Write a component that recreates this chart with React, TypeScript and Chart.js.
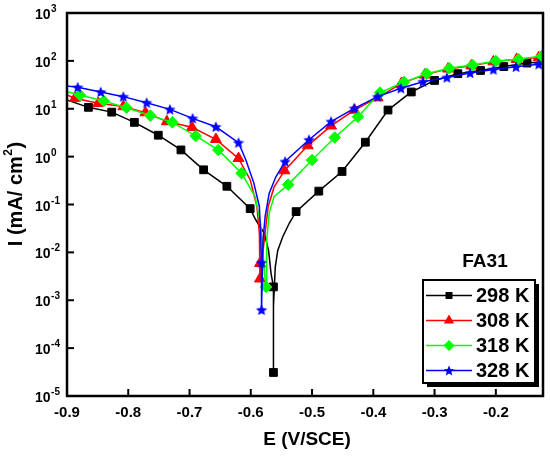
import React, { useEffect, useRef } from "react";
import { Chart, registerables } from "chart.js";

Chart.register(...registerables);

// ---- data (E in V/SCE, I in mA/cm2); M = 1 where a marker is shown ----
const E298 = [-0.9, -0.865, -0.827, -0.79, -0.751, -0.714, -0.677, -0.639, -0.601, -0.592, -0.578, -0.571, -0.567, -0.563, -0.563, -0.563, -0.56, -0.556, -0.548, -0.537, -0.526, -0.489, -0.451, -0.413, -0.376, -0.338, -0.3, -0.262, -0.225, -0.187, -0.149, -0.123];
const I298 = [15.3, 10.7, 8.5, 5.2, 2.8, 1.38, 0.53, 0.24, 0.082, 0.048, 0.025, 0.011, 0.0037, 0.0019, 0.000031, 0.00074, 0.005, 0.011, 0.021, 0.041, 0.071, 0.19, 0.49, 2.0, 9.4, 22.4, 39, 54, 63, 76, 90, 96];
const M298 = [0, 1, 1, 1, 1, 1, 1, 1, 1, 0, 0, 0, 0, 1, 1, 0, 0, 0, 0, 0, 1, 1, 1, 1, 1, 1, 1, 1, 1, 1, 1, 0];

const E308 = [-0.9, -0.887, -0.849, -0.808, -0.772, -0.737, -0.696, -0.657, -0.62, -0.601, -0.59, -0.586, -0.585, -0.585, -0.578, -0.5716, -0.562, -0.545, -0.507, -0.469, -0.431, -0.393, -0.354, -0.316, -0.278, -0.24, -0.204, -0.166, -0.13, -0.123];
const I308 = [19.4, 16.6, 13.0, 11.1, 8.3, 5.4, 4.1, 2.3, 0.92, 0.33, 0.091, 0.025, 0.0059, 0.0028, 0.018, 0.091, 0.23, 0.51, 1.7, 4.4, 9.4, 17, 34, 51, 68, 79, 96, 108, 118, 120];
const M308 = [0, 1, 1, 1, 1, 1, 1, 1, 1, 0, 0, 0, 1, 1, 0, 0, 0, 1, 1, 1, 1, 1, 1, 1, 1, 1, 1, 1, 1, 0];

const E318 = [-0.9, -0.879, -0.84, -0.803, -0.764, -0.728, -0.69, -0.653, -0.615, -0.593, -0.584, -0.58, -0.577, -0.575, -0.574, -0.57, -0.562, -0.539, -0.5, -0.463, -0.425, -0.389, -0.35, -0.313, -0.276, -0.238, -0.2, -0.163, -0.125, -0.123];
const I318 = [22.7, 19.4, 14.5, 10.5, 7.2, 5.2, 2.7, 1.38, 0.45, 0.146, 0.04, 0.01, 0.003, 0.0019, 0.018, 0.066, 0.146, 0.26, 0.85, 2.5, 6.8, 21.7, 36, 54, 70, 82, 99, 108, 126, 127];
const M318 = [0, 1, 1, 1, 1, 1, 1, 1, 1, 0, 0, 0, 0, 1, 0, 0, 0, 1, 1, 1, 1, 1, 1, 1, 1, 1, 1, 1, 1, 0];

const E328 = [-0.9, -0.8825, -0.845, -0.808, -0.77, -0.732, -0.695, -0.657, -0.62, -0.608, -0.595, -0.586, -0.584, -0.5825, -0.5825, -0.581, -0.58, -0.5766, -0.57, -0.559, -0.544, -0.505, -0.469, -0.431, -0.393, -0.355, -0.319, -0.28, -0.242, -0.204, -0.167, -0.13, -0.123];
const I328 = [30, 28.1, 22.4, 17.9, 13.4, 9.7, 6.3, 4.2, 1.96, 0.85, 0.28, 0.091, 0.025, 0.0061, 0.00063, 0.004, 0.018, 0.056, 0.17, 0.38, 0.79, 2.25, 5.4, 10.2, 17.9, 26.8, 36.8, 45, 56, 66, 75, 85, 88];
const M328 = [0, 1, 1, 1, 1, 1, 1, 1, 1, 0, 0, 0, 0, 1, 1, 0, 0, 0, 0, 0, 1, 1, 1, 1, 1, 1, 1, 1, 1, 1, 1, 1, 0];

const SERIES_LABELS = ["298 K", "308 K", "318 K", "328 K"];
const COLORS = ["#000000", "#ff0000", "#00ff00", "#0000ff"];
const X_TICKS = [-0.9, -0.8, -0.7, -0.6, -0.5, -0.4, -0.3, -0.2];
const Y_EXPONENTS = [-5, -4, -3, -2, -1, 0, 1, 2, 3];
const X_MIN = -0.9;
const X_MAX = -0.123;
const Y_MIN = 1e-5;
const Y_MAX = 1e3;
const X_TITLE = "E (V/SCE)";
const Y_TITLE_MAIN = "I (mA/ cm";
const Y_TITLE_SUP = "2";
const Y_TITLE_END = ")";
const PANEL_LABEL = "FA31";

const FONT = '"Liberation Sans", Arial, Helvetica, sans-serif';

function starPath(g: CanvasRenderingContext2D, cx: number, cy: number, R: number) {
  g.beginPath();
  for (let i = 0; i < 10; i++) {
    const r = i % 2 === 0 ? R : R * 0.45;
    const a = -Math.PI / 2 + (i * Math.PI) / 5;
    const px = cx + r * Math.cos(a);
    const py = cy + r * Math.sin(a);
    if (i === 0) g.moveTo(px, py);
    else g.lineTo(px, py);
  }
  g.closePath();
}

function makeStar(color: string, R: number) {
  const c = document.createElement("canvas");
  const s = Math.ceil(R * 2 + 2);
  c.width = s;
  c.height = s;
  const g = c.getContext("2d")!;
  starPath(g, s / 2, s / 2 + 0.5, R);
  g.fillStyle = color;
  g.fill();
  return c;
}

function drawMarker(ctx: CanvasRenderingContext2D, kind: number, x: number, y: number, color: string) {
  ctx.fillStyle = color;
  if (kind === 0) {
    ctx.fillRect(x - 3.5, y - 3.5, 7, 7);
  } else if (kind === 1) {
    const r = 6;
    ctx.beginPath();
    ctx.moveTo(x, y - r);
    ctx.lineTo(x + r * 0.866, y + r * 0.5);
    ctx.lineTo(x - r * 0.866, y + r * 0.5);
    ctx.closePath();
    ctx.fill();
  } else if (kind === 2) {
    const r = 5.5;
    ctx.beginPath();
    ctx.moveTo(x, y - r);
    ctx.lineTo(x + r, y);
    ctx.lineTo(x, y + r);
    ctx.lineTo(x - r, y);
    ctx.closePath();
    ctx.fill();
  } else {
    starPath(ctx, x, y + 0.5, 5.5);
    ctx.fill();
  }
}

const decorPlugin = {
  id: "decor",
  afterDatasetsDraw(chart: any) {
    const { ctx, chartArea: a, scales } = chart;
    const xs = scales.x;
    const ys = scales.y;
    ctx.save();
    ctx.strokeStyle = "#000";
    ctx.fillStyle = "#000";

    // frame
    ctx.lineWidth = 2.5;
    ctx.strokeRect(a.left, a.top, a.right - a.left, a.bottom - a.top);

    // x ticks (inward) and labels
    ctx.lineWidth = 2;
    ctx.font = `bold 15px ${FONT}`;
    ctx.textAlign = "center";
    ctx.textBaseline = "middle";
    X_TICKS.forEach((v) => {
      const px = xs.getPixelForValue(v);
      ctx.beginPath();
      ctx.moveTo(px, a.bottom);
      ctx.lineTo(px, a.bottom - 7);
      ctx.stroke();
      ctx.fillText(v.toFixed(1), px, a.bottom + 17);
    });

    // y ticks (inward) and labels 10^n
    Y_EXPONENTS.forEach((e) => {
      const py = ys.getPixelForValue(Math.pow(10, e));
      ctx.beginPath();
      ctx.moveTo(a.left, py);
      ctx.lineTo(a.left + 7, py);
      ctx.stroke();
      ctx.textAlign = "left";
      ctx.textBaseline = "alphabetic";
      ctx.font = `bold 14px ${FONT}`;
      const bx = 35;
      ctx.fillText("10", bx, py + 6);
      const bw = ctx.measureText("10").width;
      ctx.font = `bold 10px ${FONT}`;
      ctx.fillText(String(e), bx + bw + 0.5, py - 1);
    });

    // x title
    ctx.font = `bold 19px ${FONT}`;
    ctx.textAlign = "center";
    ctx.textBaseline = "middle";
    ctx.fillText(X_TITLE, (a.left + a.right) / 2 + 2, 440);

    // y title (rotated)
    ctx.save();
    ctx.translate(16, 194);
    ctx.rotate(-Math.PI / 2);
    ctx.textAlign = "left";
    ctx.textBaseline = "middle";
    ctx.font = `bold 20px ${FONT}`;
    const w1 = ctx.measureText(Y_TITLE_MAIN).width;
    const w3 = ctx.measureText(Y_TITLE_END).width;
    ctx.font = `bold 12px ${FONT}`;
    const w2 = ctx.measureText(Y_TITLE_SUP).width;
    const total = w1 + w2 + w3 + 1;
    let cx = -total / 2;
    ctx.font = `bold 20px ${FONT}`;
    ctx.fillText(Y_TITLE_MAIN, cx, 0);
    cx += w1;
    ctx.font = `bold 12px ${FONT}`;
    ctx.fillText(Y_TITLE_SUP, cx + 0.5, -7);
    cx += w2 + 1;
    ctx.font = `bold 20px ${FONT}`;
    ctx.fillText(Y_TITLE_END, cx, 0);
    ctx.restore();

    // panel label
    ctx.font = `bold 19px ${FONT}`;
    ctx.textAlign = "center";
    ctx.textBaseline = "middle";
    ctx.fillText(PANEL_LABEL, 485, 262);

    // legend with shadow
    const lx = 423, ly = 280, lw = 112, lh = 103;
    ctx.fillStyle = "#000";
    ctx.fillRect(lx + 4, ly + 4, lw, lh);
    ctx.fillStyle = "#fff";
    ctx.fillRect(lx, ly, lw, lh);
    ctx.lineWidth = 2;
    ctx.strokeStyle = "#000";
    ctx.strokeRect(lx, ly, lw, lh);
    SERIES_LABELS.forEach((lab, i) => {
      const ry = 295.5 + i * 25;
      ctx.strokeStyle = COLORS[i];
      ctx.lineWidth = 1.5;
      ctx.beginPath();
      ctx.moveTo(426, ry);
      ctx.lineTo(472, ry);
      ctx.stroke();
      drawMarker(ctx, i, 449, ry, COLORS[i]);
      ctx.fillStyle = "#000";
      ctx.font = `bold 20px ${FONT}`;
      ctx.textAlign = "left";
      ctx.textBaseline = "middle";
      ctx.fillText(lab, 476, ry + 1);
    });

    ctx.restore();
  },
};

export default function App() {
  const ref = useRef<HTMLCanvasElement | null>(null);

  useEffect(() => {
    if (!ref.current) return;
    const star = makeStar(COLORS[3], 6);
    const series = [
      { E: E298, I: I298, M: M298, style: "rect" as any, r: 5.5 },
      { E: E308, I: I308, M: M308, style: "triangle" as any, r: 6.3 },
      { E: E318, I: I318, M: M318, style: "rectRot" as any, r: 5.8 },
      { E: E328, I: I328, M: M328, style: star as any, r: 5 },
    ];
    const datasets = series.map((s, i) => ({
      label: SERIES_LABELS[i],
      data: s.E.map((x, k) => ({ x, y: s.I[k] })),
      borderColor: COLORS[i],
      backgroundColor: COLORS[i],
      pointBackgroundColor: COLORS[i],
      pointBorderColor: COLORS[i],
      pointBorderWidth: 1,
      borderWidth: 1.5,
      pointStyle: s.style,
      pointRadius: (c: any) => (s.M[c.dataIndex] ? s.r : 0),
      pointHoverRadius: (c: any) => (s.M[c.dataIndex] ? s.r : 0),
      tension: 0,
      fill: false,
      order: 4 - i,
    }));

    const chart = new Chart(ref.current, {
      type: "line",
      data: { datasets },
      options: {
        animation: false,
        responsive: false,
        maintainAspectRatio: false,
        events: [],
        layout: { padding: { left: 67, top: 13, right: 7, bottom: 62 } },
        plugins: { legend: { display: false }, tooltip: { enabled: false } },
        scales: {
          x: { type: "linear", min: X_MIN, max: X_MAX, display: false },
          y: { type: "logarithmic", min: Y_MIN, max: Y_MAX, display: false },
        },
      },
      plugins: [decorPlugin],
    });
    return () => chart.destroy();
  }, []);

  return (
    <div style={{ position: "fixed", left: 0, top: 0, width: 550, height: 458, background: "#fff" }}>
      <canvas ref={ref} width={550} height={458} style={{ display: "block", width: 550, height: 458 }} />
    </div>
  );
}
